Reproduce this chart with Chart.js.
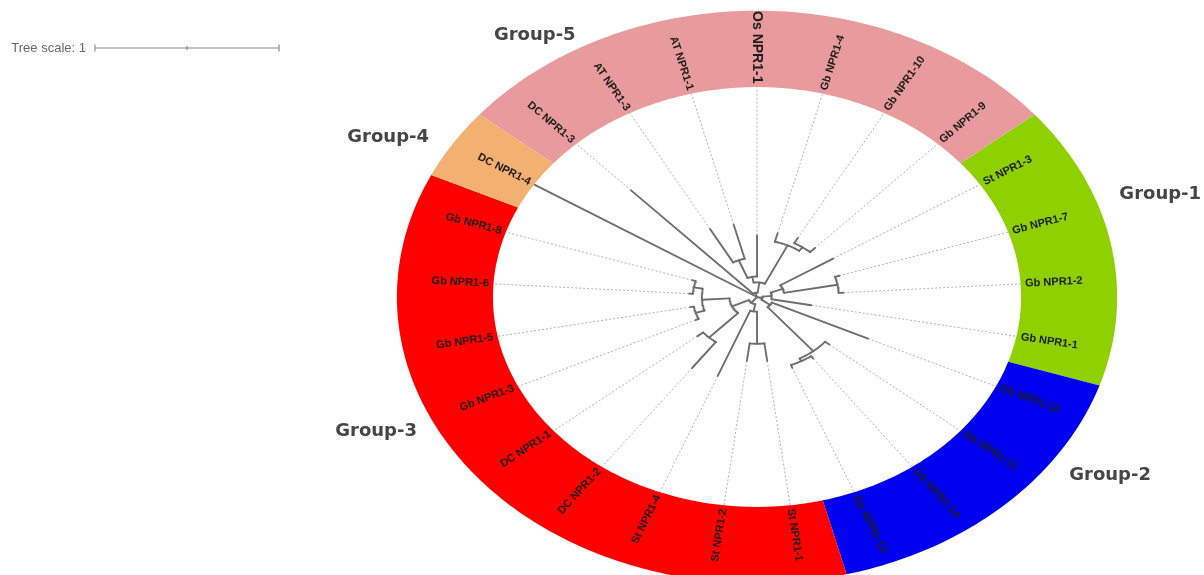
<!DOCTYPE html>
<html>
<head>
<meta charset="utf-8">
<script src="https://cdn.jsdelivr.net/npm/chart.js@4/dist/chart.umd.min.js"></script>
<style>
  html, body { margin: 0; padding: 0; background: #fff; overflow: hidden; }
  canvas { display: block; }
</style>
</head>
<body>
<canvas id="tree" width="1204" height="575" style="width:1204px;height:575px"></canvas>
<script>
// ---- data -----------------------------------------------------------
// Leaves in clockwise order around the ring
const leafNames = [
  'DC NPR1-3', 'AT NPR1-3', 'AT NPR1-1', 'Os NPR1-1', 'Gb NPR1-4', 'Gb NPR1-10', 'Gb NPR1-9',
  'St NPR1-3', 'Gb NPR1-7', 'Gb NPR1-2', 'Gb NPR1-1',
  'Gb NPR1-12', 'Gb NPR1-11', 'Gb NPR1-14', 'Gb NPR1-13',
  'St NPR1-1', 'St NPR1-2', 'St NPR1-4', 'DC NPR1-2', 'DC NPR1-1', 'Gb NPR1-3', 'Gb NPR1-5', 'Gb NPR1-6', 'Gb NPR1-8',
  'DC NPR1-4'
];
// Group index of every leaf (into groupNames)
const leafGroups = [
  4, 4, 4, 4, 4, 4, 4,
  0, 0, 0, 0,
  1, 1, 1, 1,
  2, 2, 2, 2, 2, 2, 2, 2, 2,
  3
];
const groupNames = ['Group-1', 'Group-2', 'Group-3', 'Group-4', 'Group-5'];
const groupColors = ['#8fd000', '#0000f0', '#ff0000', '#f3b070', '#e89a9c'];

// Phylogeny with branch lengths
const treeNewick =
  "(" +
  "('DC NPR1-3':0.97,((('AT NPR1-3':0.26,'AT NPR1-1':0.24):0.13,'Os NPR1-1':0.28):0.04," +
  "('Gb NPR1-4':0.06,('Gb NPR1-10':0.04,'Gb NPR1-9':0.04):0.03):0.29):0.07):0.03," +
  "((('St NPR1-3':0.34,('Gb NPR1-7':0.025,'Gb NPR1-2':0.025):0.295):0.07,'Gb NPR1-1':0.22):0.05," +
  "('Gb NPR1-12':0.577,('Gb NPR1-11':0.03,('Gb NPR1-14':0.02,'Gb NPR1-13':0.02):0.02):0.39):0.06):0.03," +
  "((('St NPR1-1':0.12,'St NPR1-2':0.12):0.22,'St NPR1-4':0.48):0.05," +
  "(('DC NPR1-2':0.22,'DC NPR1-1':0.04):0.23,(('Gb NPR1-3':0.02,'Gb NPR1-5':0.02):0.05," +
  "('Gb NPR1-6':0.02,'Gb NPR1-8':0.02):0.05):0.15):0.10):0.05," +
  "'DC NPR1-4':1.43" +
  ");";

const treeScaleUnits = 1;
const treeScaleLabel = 'Tree scale: 1';

// ---- layout -----------------------------------------------------------
const layout = {
  firstLeafAngle: -43.2,          // degrees clockwise from 12 o'clock
  ringInner: 1.435,               // in tree units
  ringOuter: 1.957,
  labelGap: 0.025,
  xRange: [-4.114, 2.429],
  yRange: [-1.9005, 2.0303],
  scaleBarStart: { x: -3.598, y: 1.702 },
  groupLabels: [                 // angle (deg) / radius per group, same order as groupNames
    { angle: 72.3, r: 2.30 },
    { angle: 122.5, r: 2.275 },
    { angle: 246.1, r: 2.264 },
    { angle: -61.5, r: 2.281 },
    { angle: -34.0, r: 2.16 }
  ],
  emphasisLeaf: 'Os NPR1-1'
};

// ---- tree parsing / placement --------------------------------------------
function parseNewick(s) {
  let i = 0;
  const ws = () => { while (i < s.length && /\s/.test(s[i])) i++; };
  function parseName() {
    ws();
    if (s[i] === "'") {
      const j = s.indexOf("'", i + 1);
      const n = s.slice(i + 1, j);
      i = j + 1;
      return n;
    }
    const st = i;
    while (i < s.length && !/[,():;]/.test(s[i])) i++;
    return s.slice(st, i).trim();
  }
  function parseNode() {
    ws();
    const node = { children: [], name: '', length: 0 };
    if (s[i] === '(') {
      i++;
      for (;;) {
        node.children.push(parseNode());
        ws();
        if (s[i] === ',') { i++; continue; }
        break;
      }
      ws();
      i++; // closing paren
    }
    node.name = parseName();
    ws();
    if (s[i] === ':') {
      i++;
      const st = i;
      while (i < s.length && /[0-9.eE+\-]/.test(s[i])) i++;
      node.length = parseFloat(s.slice(st, i));
    }
    return node;
  }
  return parseNode();
}

const leafStep = 360 / leafNames.length;
const leafAngle = idx => layout.firstLeafAngle + idx * leafStep;

function placeTree(node, parentDepth) {
  node.depth = parentDepth + node.length;
  if (!node.children.length) {
    node.leaf = leafNames.indexOf(node.name);
    node.angle = leafAngle(node.leaf);
  } else {
    node.children.forEach(c => placeTree(c, node.depth));
    const first = node.children[0], last = node.children[node.children.length - 1];
    node.angle = (first.angle + last.angle) / 2;
  }
}

const polar = (r, deg) => {
  const a = deg * Math.PI / 180;
  return { x: r * Math.sin(a), y: r * Math.cos(a) };
};

function arcPoints(r, a0, a1) {
  const n = Math.max(2, Math.ceil(Math.abs(a1 - a0)) + 1);
  const pts = [];
  for (let k = 0; k < n; k++) pts.push(polar(r, a0 + (a1 - a0) * k / (n - 1)));
  return pts;
}

const root = parseNewick(treeNewick);
placeTree(root, 0);

// ---- datasets -------------------------------------------------------------
const branchStyle = {
  type: 'line', showLine: true, borderColor: '#6e6e6e', borderWidth: 1.9,
  pointRadius: 0, tension: 0, fill: false, borderCapStyle: 'round', borderJoinStyle: 'round', order: 0
};
const guideStyle = {
  type: 'line', showLine: true, borderColor: '#a8a8a8', borderWidth: 0.9, borderDash: [2, 2],
  pointRadius: 0, tension: 0, fill: false, order: 1
};

const datasets = [];

// ring sectors (filled by the sector plugin from the dataset's own points)
groupNames.forEach((g, gi) => {
  const idx = leafGroups.map((v, k) => v === gi ? k : -1).filter(k => k >= 0);
  const a0 = leafAngle(Math.min(...idx)) - leafStep / 2;
  const a1 = leafAngle(Math.max(...idx)) + leafStep / 2;
  const pts = arcPoints(layout.ringOuter, a0, a1).concat(arcPoints(layout.ringInner, a1, a0));
  datasets.push({
    type: 'line', label: g, data: pts, showLine: false, pointRadius: 0,
    sectorFill: groupColors[gi], order: 5
  });
});

function walk(node, parent) {
  if (parent) {
    datasets.push(Object.assign({ data: [polar(parent.depth, node.angle), polar(node.depth, node.angle)] }, branchStyle));
  }
  if (node.children.length) {
    const a0 = node.children[0].angle, a1 = node.children[node.children.length - 1].angle;
    if (node.depth > 0) datasets.push(Object.assign({ data: arcPoints(node.depth, a0, a1) }, branchStyle));
    node.children.forEach(c => walk(c, node));
  } else if (node.depth < layout.ringInner) {
    datasets.push(Object.assign({ data: [polar(node.depth, node.angle), polar(layout.ringInner, node.angle)] }, guideStyle));
  }
}
walk(root, null);

// tree scale bar
const sb = layout.scaleBarStart;
datasets.push({
  type: 'line', label: 'scale', showLine: true, order: 0,
  data: [{ x: sb.x, y: sb.y }, { x: sb.x + treeScaleUnits / 2, y: sb.y }, { x: sb.x + treeScaleUnits, y: sb.y }],
  borderColor: '#8a8a8a', borderWidth: 1.2,
  pointStyle: 'line', rotation: 90, pointRadius: [3.5, 2, 3.5],
  pointBorderColor: '#8a8a8a', pointBorderWidth: 1.2, pointBackgroundColor: '#8a8a8a'
});

// ---- plugins --------------------------------------------------------------
const sectorPlugin = {
  id: 'sectors',
  beforeDatasetsDraw(chart) {
    const ctx = chart.ctx;
    chart.data.datasets.forEach((ds, i) => {
      if (!ds.sectorFill) return;
      const pts = chart.getDatasetMeta(i).data;
      ctx.save();
      ctx.beginPath();
      pts.forEach((p, k) => k ? ctx.lineTo(p.x, p.y) : ctx.moveTo(p.x, p.y));
      ctx.closePath();
      ctx.fillStyle = ds.sectorFill;
      ctx.fill();
      ctx.restore();
    });
  }
};

const labelPlugin = {
  id: 'labels',
  afterDatasetsDraw(chart) {
    const ctx = chart.ctx;
    const sx = chart.scales.x, sy = chart.scales.y;
    const toPx = p => ({ x: sx.getPixelForValue(p.x), y: sy.getPixelForValue(p.y) });
    const c = toPx({ x: 0, y: 0 });

    // leaf labels, radial
    leafNames.forEach((name, k) => {
      const a = leafAngle(k);
      const p = toPx(polar(layout.ringInner + layout.labelGap, a));
      const phi = Math.atan2(p.y - c.y, p.x - c.x);
      const norm = ((a % 360) + 360) % 360;
      const outward = norm > 0 && norm < 180;
      ctx.save();
      ctx.translate(p.x, p.y);
      ctx.rotate(outward ? phi : phi + Math.PI);
      ctx.textAlign = outward ? 'left' : 'right';
      ctx.textBaseline = 'middle';
      ctx.fillStyle = '#1c1c1c';
      ctx.font = name === layout.emphasisLeaf
        ? 'bold 14px "Liberation Sans", Arial, sans-serif'
        : 'bold 11px "Liberation Sans", Arial, sans-serif';
      ctx.fillText(name, 0, 0);
      ctx.restore();
    });

    // group names
    groupNames.forEach((g, gi) => {
      const pos = layout.groupLabels[gi];
      const p = toPx(polar(pos.r, pos.angle));
      ctx.save();
      ctx.font = 'bold 18px "DejaVu Sans", sans-serif';
      ctx.fillStyle = '#454545';
      ctx.textAlign = 'center';
      ctx.textBaseline = 'middle';
      ctx.fillText(g, p.x, p.y);
      ctx.restore();
    });

    // tree scale caption
    const s0 = toPx({ x: sb.x, y: sb.y });
    ctx.save();
    ctx.font = '13px "Liberation Sans", Arial, sans-serif';
    ctx.fillStyle = '#666';
    ctx.textAlign = 'right';
    ctx.textBaseline = 'middle';
    ctx.fillText(treeScaleLabel, s0.x - 9, s0.y);
    ctx.restore();
  }
};

new Chart(document.getElementById('tree'), {
  type: 'scatter',
  data: { datasets },
  options: {
    responsive: false,
    devicePixelRatio: 1,
    animation: false,
    events: [],
    layout: { padding: 0, autoPadding: false },
    plugins: { legend: { display: false }, tooltip: { enabled: false } },
    scales: {
      x: { type: 'linear', display: false, min: layout.xRange[0], max: layout.xRange[1] },
      y: { type: 'linear', display: false, min: layout.yRange[0], max: layout.yRange[1] }
    }
  },
  plugins: [sectorPlugin, labelPlugin]
});
</script>
</body>
</html>
